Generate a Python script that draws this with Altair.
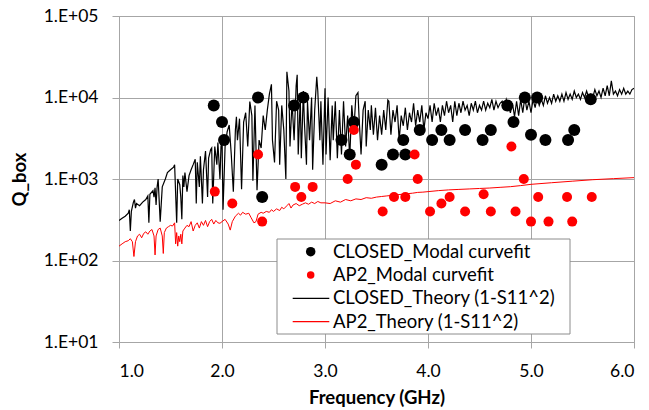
import altair as alt
import pandas as pd

# ---- data ----
closed_fit_freq = [1.92, 2.00, 2.02, 2.35, 2.39, 2.70, 2.79, 3.16, 3.24, 3.28, 3.55, 3.66, 3.76, 3.78, 3.92,
                   4.04, 4.13, 4.21, 4.36, 4.53, 4.61, 4.77, 4.83, 4.94, 5.00, 5.06, 5.14, 5.36, 5.42, 5.58]
closed_fit_q = [8000, 5000, 3000, 10000, 600, 8000, 10000, 3000, 2000, 5000, 1500, 2000, 3000, 2000, 4000,
                3000, 4000, 3000, 4000, 3000, 4000, 8000, 5000, 10000, 3500, 10000, 3000, 3000, 4000, 9500]

ap2_fit_freq = [1.93, 2.10, 2.35, 2.39, 2.71, 2.77, 2.88, 3.22, 3.28, 3.30, 3.56, 3.67, 3.78, 3.87, 3.90,
                4.02, 4.13, 4.21, 4.36, 4.54, 4.61, 4.81, 4.85, 4.93, 5.00, 5.07, 5.17, 5.35, 5.40, 5.59]
ap2_fit_q = [700, 500, 2000, 300, 800, 600, 800, 1000, 4000, 1500, 400, 600, 600, 2000, 1000,
             400, 500, 600, 400, 650, 400, 2500, 400, 1000, 300, 600, 300, 600, 300, 600]

closed_theory_freq = [
    1.00, 1.03, 1.06, 1.09, 1.10, 1.11, 1.12, 1.14, 1.15, 1.16, 1.17, 1.20, 1.23, 1.26, 1.28, 1.29, 1.30, 1.33,
    1.34, 1.35, 1.36, 1.37, 1.38, 1.40, 1.42, 1.45, 1.47, 1.50, 1.53, 1.54, 1.56, 1.57, 1.59, 1.60, 1.61, 1.62,
    1.63, 1.64, 1.66, 1.68, 1.70, 1.72, 1.74, 1.75, 1.76, 1.78, 1.79, 1.81, 1.82, 1.84, 1.86, 1.87, 1.89, 1.90,
    1.91, 1.93, 1.95, 1.96, 1.98, 1.99, 2.00, 2.01, 2.03, 2.05, 2.07, 2.09, 2.11, 2.13, 2.14, 2.15, 2.17, 2.19,
    2.21, 2.23, 2.25, 2.27, 2.29, 2.30, 2.32, 2.34, 2.36, 2.38, 2.40, 2.42, 2.44, 2.46, 2.48, 2.49, 2.51, 2.53,
    2.55, 2.56, 2.58, 2.60, 2.62, 2.63, 2.65, 2.66, 2.68, 2.70, 2.72, 2.73, 2.74, 2.76, 2.77, 2.79, 2.80, 2.82,
    2.83, 2.85, 2.87, 2.88, 2.90, 2.92, 2.93, 2.95, 2.96, 2.98, 3.00, 3.01, 3.03, 3.05, 3.07, 3.08, 3.10, 3.12,
    3.14, 3.16, 3.18, 3.20, 3.22, 3.24, 3.26, 3.28, 3.30, 3.32, 3.33, 3.35, 3.37, 3.39, 3.40, 3.42, 3.44, 3.45,
    3.47, 3.49, 3.51, 3.53, 3.55, 3.57, 3.59, 3.61, 3.62, 3.64, 3.66, 3.68, 3.70, 3.72, 3.74, 3.76, 3.78, 3.80,
    3.82, 3.84, 3.86, 3.88, 3.90, 3.92, 3.94, 3.96, 3.98, 4.00, 4.02, 4.04, 4.06, 4.08, 4.10, 4.12, 4.14, 4.16,
    4.18, 4.20, 4.22, 4.24, 4.26, 4.28, 4.30, 4.32, 4.34, 4.36, 4.38, 4.40, 4.42, 4.44, 4.46, 4.48, 4.50, 4.52,
    4.54, 4.56, 4.58, 4.60, 4.62, 4.64, 4.66, 4.68, 4.70, 4.72, 4.74, 4.76, 4.78, 4.80, 4.82, 4.84, 4.86, 4.88,
    4.90, 4.92, 4.94, 4.96, 4.98, 5.00, 5.02, 5.04, 5.06, 5.08, 5.10, 5.12, 5.14, 5.16, 5.18, 5.20, 5.22, 5.24,
    5.26, 5.28, 5.30, 5.32, 5.34, 5.36, 5.38, 5.40, 5.42, 5.44, 5.46, 5.48, 5.50, 5.52, 5.54, 5.56, 5.58, 5.60,
    5.62, 5.64, 5.66, 5.68, 5.70, 5.72, 5.74, 5.76, 5.78, 5.80, 5.82, 5.84, 5.86, 5.88, 5.90, 5.92, 5.94, 5.96,
    5.98, 6.00]
closed_theory_q = [
    310, 330, 350, 380, 420, 230, 400, 520, 560, 440, 500, 470, 520, 560, 620, 290, 650, 720,
    600, 780, 480, 800, 1000, 300, 800, 1000, 1200, 1300, 1400, 1500, 290, 1000, 850, 600, 320, 1100,
    800, 1200, 700, 1100, 1300, 1500, 1750, 500, 1600, 800, 1900, 500, 1300, 2200, 600, 1800, 2300, 2400,
    500, 2500, 1500, 2800, 1000, 2500, 3000, 420, 2500, 3800, 4600, 2000, 700, 4000, 5800, 3000, 5500, 750,
    5000, 6500, 2500, 8900, 6000, 950, 8000, 730, 3000, 2400, 6000, 4000, 7000, 11000, 14500, 3000, 1600, 9000,
    7000, 1500, 8000, 4000, 1000, 20700, 12000, 2500, 9000, 3000, 14000, 19000, 2000, 10000, 1800, 12000, 5000, 1500,
    9000, 3000, 10000, 1300, 7000, 18000, 12000, 3000, 9000, 1500, 13000, 2000, 10000, 1700, 8000, 3000, 9000, 1800,
    7000, 2000, 9000, 2500, 6000, 1800, 8000, 4000, 10500, 11500, 6000, 2000, 7000, 9000, 2500, 7000, 4000, 8000,
    3500, 7500, 3000, 6000, 3500, 7000, 4000, 9300, 9000, 3500, 7000, 5000, 8000, 3000, 6000, 4500, 7500, 4000,
    6500, 5000, 8500, 4500, 7000, 5000, 8000, 4000, 6500, 5500, 8000, 5000, 8500, 6000, 7500, 5000, 8000, 6000,
    9000, 6500, 8000, 5000, 9000, 6000, 8500, 6500, 9000, 7000, 8000, 6000, 8500, 7000, 9000, 6500, 8000, 7000,
    9000, 7000, 8500, 7500, 9500, 7000, 9000, 7500, 8500, 9000, 7000, 9500, 8000, 6500, 8500, 5800, 9000, 6000,
    9500, 6500, 10000, 7000, 9000, 6500, 9500, 7500, 10000, 8000, 9500, 8000, 10500, 8500, 10000, 8500, 11000, 9000,
    10500, 9000, 11000, 9000, 11500, 9500, 11000, 9500, 12000, 10000, 11000, 9500, 11500, 10000, 12000, 10000, 11000, 10000,
    12500, 10500, 12000, 10000, 13000, 10500, 14000, 10500, 16000, 11000, 12000, 10500, 12500, 11000, 13000, 11000, 12000, 11000,
    12500, 13000]

ap2_theory_freq = [
    1.00, 1.03, 1.06, 1.09, 1.11, 1.13, 1.145, 1.16, 1.18, 1.20, 1.22, 1.24, 1.26, 1.28, 1.30, 1.32, 1.34, 1.35,
    1.36, 1.38, 1.40, 1.42, 1.43, 1.44, 1.46, 1.48, 1.50, 1.52, 1.54, 1.55, 1.56, 1.57, 1.58, 1.59, 1.60, 1.61,
    1.62, 1.64, 1.66, 1.68, 1.70, 1.72, 1.74, 1.76, 1.78, 1.80, 1.82, 1.84, 1.86, 1.88, 1.90, 1.92, 1.94, 1.96,
    1.98, 2.00, 2.03, 2.06, 2.08, 2.10, 2.13, 2.16, 2.18, 2.20, 2.23, 2.26, 2.28, 2.31, 2.33, 2.35, 2.38, 2.40,
    2.43, 2.46, 2.48, 2.50, 2.53, 2.56, 2.58, 2.60, 2.63, 2.65, 2.67, 2.69, 2.72, 2.75, 2.78, 2.81, 2.84, 2.87,
    2.90, 2.93, 2.96, 3.00, 3.05, 3.10, 3.15, 3.20, 3.25, 3.30, 3.35, 3.40, 3.45, 3.50, 3.55, 3.60, 3.65, 3.70,
    3.75, 3.80, 3.85, 3.90, 3.95, 4.00, 4.10, 4.20, 4.30, 4.40, 4.50, 4.60, 4.70, 4.80, 4.90, 5.00, 5.20, 5.40,
    5.60, 5.80, 6.00]
ap2_theory_q = [
    150, 160, 170, 175, 185, 170, 112, 170, 200, 210, 190, 215, 225, 210, 230, 240, 200, 117,
    200, 240, 250, 200, 122, 220, 250, 260, 270, 265, 290, 160, 220, 150, 200, 170, 210, 160,
    230, 250, 270, 260, 300, 230, 270, 290, 250, 300, 270, 310, 260, 300, 320, 280, 310, 290,
    286, 300, 320, 280, 236, 300, 350, 380, 360, 390, 370, 380, 340, 290, 300, 370, 390, 380,
    400, 390, 420, 400, 430, 410, 450, 430, 470, 500, 440, 480, 500, 470, 490, 510, 490, 520,
    500, 530, 510, 510, 500, 540, 520, 560, 540, 570, 560, 590, 580, 600, 610, 620, 630, 640,
    650, 660, 670, 685, 690, 700, 720, 735, 745, 755, 765, 775, 790, 805, 830, 860, 900, 940,
    980, 1010, 1040]

legend_labels = ["CLOSED_Modal curvefit", "AP2_Modal curvefit",
                 "CLOSED_Theory (1-S11^2)", "AP2_Theory (1-S11^2)"]
x_ticks = [1, 2, 3, 4, 5, 6]
y_ticks = [10, 100, 1000, 10000, 100000]

FONT = "Lato"
GRID = "#a6a6a6"

closed_fit = pd.DataFrame({"f": closed_fit_freq, "q": closed_fit_q})
ap2_fit = pd.DataFrame({"f": ap2_fit_freq, "q": ap2_fit_q})
closed_th = pd.DataFrame({"f": closed_theory_freq, "q": closed_theory_q})
ap2_th = pd.DataFrame({"f": ap2_theory_freq, "q": ap2_theory_q})

xs = alt.Scale(domain=[1, 6], nice=False, zero=False)
ys = alt.Scale(type="log", domain=[10, 100000], nice=False)

x_enc = alt.X("f:Q", scale=xs, axis=alt.Axis(
    values=x_ticks, format=".1f", title="Frequency  (GHz)", grid=True,
    tickSize=6, labelPadding=14, titleY=55, titleBaseline="middle"))
y_enc = alt.Y("q:Q", scale=ys, axis=alt.Axis(
    values=y_ticks, title="Q_box", grid=True,
    labelExpr="'1.E+0' + format(log(datum.value) / log(10), '.0f')",
    tickSize=7, labelPadding=14, titleX=-100, titleY=163, titleAngle=270,
    titleAlign="center", titleBaseline="middle"))

l_closed_th = alt.Chart(closed_th).mark_line(color="#000000", strokeWidth=1.2, clip=True).encode(x=x_enc, y=y_enc)
l_ap2_th = alt.Chart(ap2_th).mark_line(color="#ff0000", strokeWidth=1.0, clip=True).encode(x="f:Q", y="q:Q")
p_closed = alt.Chart(closed_fit).mark_circle(color="#000000", size=144, opacity=1).encode(x="f:Q", y="q:Q")
p_ap2 = alt.Chart(ap2_fit).mark_circle(color="#ff0000", size=100, opacity=1).encode(x="f:Q", y="q:Q")

# legend (drawn inside the plot, like the reference)
one = pd.DataFrame({"k": [0]})
leg_box = alt.Chart(one).mark_rect(fill="white", stroke="#8c8c8c", strokeWidth=1).encode(
    x=alt.value(158), x2=alt.value(451), y=alt.value(223), y2=alt.value(318))
row_y = [235.7, 259.0, 282.3, 305.7]
leg_dot1 = alt.Chart(one).mark_circle(color="#000000", size=90, opacity=1).encode(
    x=alt.value(191.7), y=alt.value(row_y[0]))
leg_dot2 = alt.Chart(one).mark_circle(color="#ff0000", size=56, opacity=1).encode(
    x=alt.value(191.7), y=alt.value(row_y[1]))
leg_l1 = alt.Chart(one).mark_rule(color="#000000", strokeWidth=1.2).encode(
    x=alt.value(173.7), x2=alt.value(210.3), y=alt.value(row_y[2]))
leg_l2 = alt.Chart(one).mark_rule(color="#ff0000", strokeWidth=1.2).encode(
    x=alt.value(173.7), x2=alt.value(210.3), y=alt.value(row_y[3]))
leg_texts = [
    alt.Chart(one).mark_text(align="left", baseline="middle", font=FONT, fontSize=18.5, color="#000000").encode(
        x=alt.value(214), y=alt.value(row_y[i]), text=alt.value(legend_labels[i]))
    for i in range(4)
]

chart = alt.layer(
    l_closed_th, l_ap2_th, p_closed, p_ap2, leg_box, leg_dot1, leg_dot2, leg_l1, leg_l2, *leg_texts
).properties(
    width=515, height=326,
    autosize=alt.AutoSizeParams(type="none"),
    padding={"left": 119, "top": 16, "right": 15, "bottom": 68},
    background="white",
).configure_view(
    stroke=GRID, strokeWidth=1
).configure_axis(
    gridColor=GRID, gridWidth=1, domainColor=GRID, domainWidth=1, tickColor=GRID, tickWidth=1,
    labelFont=FONT, labelFontSize=17.5, labelColor="#000000",
    titleFont=FONT, titleFontSize=18.5, titleFontWeight="bold", titleColor="#000000",
)

chart.save("out.html", embed_options={"renderer": "svg", "actions": False})
